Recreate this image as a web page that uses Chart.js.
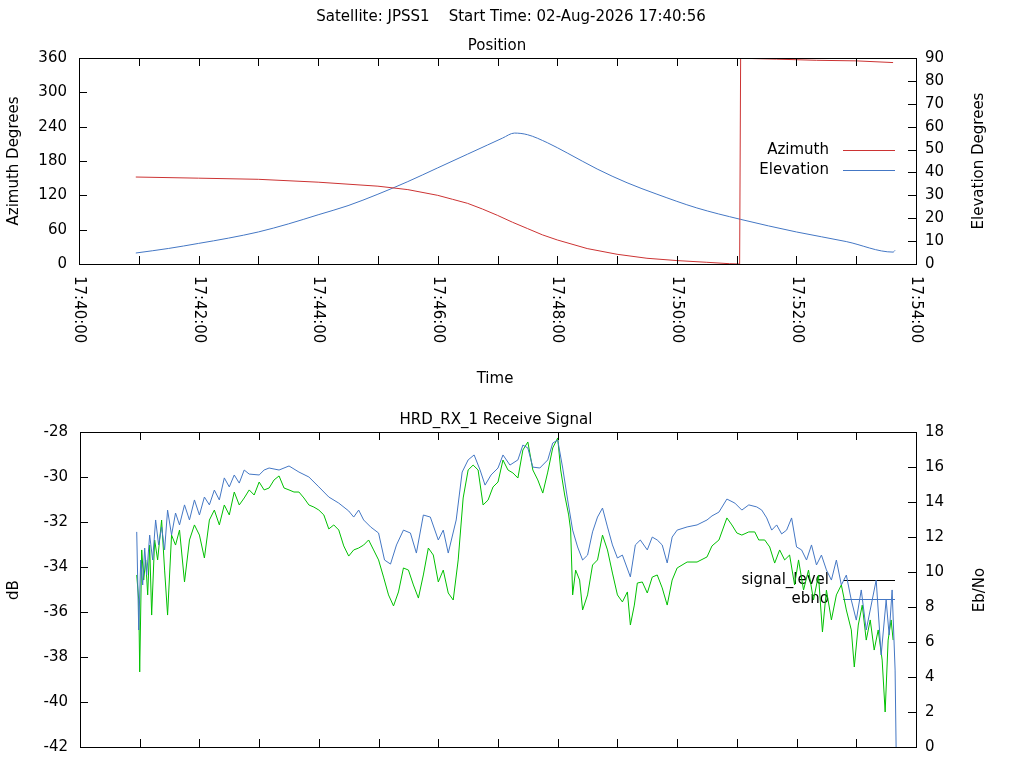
<!DOCTYPE html>
<html><head><meta charset="utf-8">
<script src="https://cdn.jsdelivr.net/npm/chart.js@4.4.1/dist/chart.umd.min.js"></script>
<style>
html,body{margin:0;padding:0;background:#fff;width:1024px;height:768px;overflow:hidden}
#c1{position:absolute;left:0;top:0}
#c2{position:absolute;left:0;top:400px}
</style></head><body>
<canvas id="c1" width="1024" height="400"></canvas>
<canvas id="c2" width="1024" height="368"></canvas>
<script>
// ---- data (time in seconds after 17:40:00) ----
const posTime = [57,120,180,240,300,330,360,375,390,405,420,435,450,465,480,510,540,570,600,630,653,663,664,677,700,740,780,817];
const azimuth = [152,150,148,143,136,130,120,113,106,96,85,73,62,51,42,27,17,10,6,3,0.5,0,360,359,358,356,355,352];
const elevTime = [57,90,120,150,180,210,240,270,300,330,360,390,410,425,437,450,470,490,520,550,580,620,664,720,770,817,819];
const elevation = [4.8,6.8,9,11.3,14,17.5,21.5,25.5,30.5,36,42,48,52,55,57.2,56.5,53,48.5,41.5,35.5,30.5,24.5,19.5,14,9.8,5.2,6];

const sigTime = [57,59,61,63,65,67,70,73,76,79,82,85,88,92,96,100,105,110,115,120,125,130,135,140,145,150,155,160,165,170,180,185,190,200,210,220,230,240,250,260,270,275,280,285,292,300,306,312,318,325,332,338,345,352,360,365,370,378,384,390,396,402,407,413,420,425,432,440,445,450,455,462,470,475,480,485,490,495,500,505,510,515,520,525,530,535,540,545,553,558,563,570,575,580,585,590,595,600,610,620,630,635,642,650,658,665,672,680,685,690,695,700,705,710,715,720,725,730,735,740,745,750,755,760,765,770,775,780,785,790,795,800,805,810,813,816,819,820];
const signalLevel = [-32.44,-36.8,-33.69,-34.8,-33.16,-34.36,-32.58,-33.69,-31.91,-33.02,-32.22,-33.24,-31.47,-32.58,-31.6,-32.13,-31.24,-31.91,-31.02,-31.69,-30.89,-31.24,-30.58,-31.02,-30.04,-30.44,-29.91,-30.27,-29.69,-29.87,-29.91,-29.69,-29.6,-29.69,-29.51,-29.78,-30.0,-30.44,-30.89,-31.16,-31.51,-31.78,-31.47,-31.91,-32.22,-32.49,-33.69,-33.87,-33.02,-32.36,-32.49,-33.38,-31.69,-31.78,-32.8,-32.36,-33.38,-31.91,-29.78,-29.24,-29.02,-29.69,-30.36,-29.91,-29.6,-29.02,-29.47,-29.24,-28.58,-28.71,-29.56,-29.6,-29.24,-28.49,-28.36,-29.6,-31.02,-32.36,-33.11,-33.69,-33.47,-32.44,-31.78,-31.38,-32.22,-33.02,-33.6,-33.47,-34.44,-33.02,-32.8,-33.24,-32.67,-32.8,-33.02,-33.82,-32.67,-32.36,-32.22,-32.13,-31.91,-31.73,-31.56,-30.98,-31.16,-31.47,-31.24,-31.33,-31.47,-31.82,-32.36,-32.13,-32.53,-32.36,-31.82,-33.11,-33.24,-33.69,-33.02,-33.91,-33.47,-34.13,-34.58,-33.69,-34.8,-34.36,-35.47,-36.36,-35.02,-36.8,-35.69,-34.58,-37.91,-35.47,-37.02,-35.02,-38.58,-42];

const ebnoTime = [57,59,60,62,64,66,68,70,72,75,78,82,85,88,92,96,100,105,110,115,120,125,130,135,140,145,150,155,160,165,170,175,180,185,190,195,200,205,210,215,220,225,230,235,240,245,250,255,260,265,270,275,280,285,290,295,300,305,310,315,320,325,330,335,340,345,350,355,360,365,370,375,380,385,390,395,400,405,410,415,420,425,430,435,440,445,450,455,460,465,470,475,480,483,487,491,493,495,498,502,505,510,515,520,525,530,535,540,545,550,553,557,560,565,570,575,580,585,590,595,600,610,620,630,635,642,650,655,660,665,672,678,682,688,693,698,703,708,713,718,722,727,732,737,742,746,750,755,760,765,770,775,778,782,786,790,794,798,802,806,809,812,815,817];
const ebno = [9.83,8.4,4.29,11.26,9.54,10.69,8.69,11.54,7.54,11.83,10.69,12.97,10.11,7.54,12.11,11.54,12.4,9.43,11.83,12.69,12.11,10.8,12.97,13.54,12.69,13.83,13.26,14.57,13.83,14.23,14.69,14.4,15.14,14.69,14.8,15.26,15.49,14.8,14.69,14.57,14.57,14.23,13.83,13.71,13.54,13.26,12.46,12.69,12.4,11.49,10.91,11.26,11.37,11.54,11.83,11.26,10.69,9.71,8.69,8.06,8.86,10.23,10.11,9.26,8.51,9.83,11.37,10.97,9.43,10.11,8.8,8.4,10.69,14.23,15.83,16.11,15.83,13.83,14.11,14.86,15.14,16.4,15.83,15.66,15.37,16.97,17.43,15.83,15.26,14.51,15.71,17.09,17.66,15.83,14.4,13.26,12.4,8.69,10.11,9.54,7.83,8.69,10.4,10.69,12.11,11.26,9.94,8.69,8.29,8.86,6.97,8.11,9.37,9.43,8.8,9.71,9.83,9.09,8.11,9.54,10.23,10.57,10.57,10.86,11.49,11.83,13.09,12.69,12.23,12.11,12.29,12.29,11.83,11.83,11.43,10.51,11.26,10.69,10.97,9.26,10.69,8.97,10.11,8.4,9.83,6.57,8.97,7.26,8.69,9.26,7.83,6.69,4.57,6.97,8.11,6.11,7.26,5.54,6.69,4.97,2.0,6.11,7.26,6.11];

const xTickLabels = ['17:40:00','17:42:00','17:44:00','17:46:00','17:48:00','17:50:00','17:52:00','17:54:00'];
const RED='#cc3333', BLUE='#4477c4', GREEN='#00c000';
const FONT='15px "DejaVu Sans"';
const pts=(t,v)=>t.map((x,i)=>({x,y:v[i]}));

function fixW(w){return s=>{s.width=w;};}
function fixH(h){return s=>{s.height=h;};}

function framePlugin(opts){
  return {id:'frame'+opts.id,
    beforeDatasetsDraw(ch){
      const c=ch.ctx;
      c.save();c.font=FONT;c.fillStyle='#000';c.textAlign='right';c.textBaseline='middle';
      opts.legend.forEach(l=>{
        const y=l.y;
        c.fillText(l.text,829,y);
        c.strokeStyle=l.color;c.lineWidth=1;
        c.beginPath();c.moveTo(843,y+0.5);c.lineTo(895,y+0.5);c.stroke();
      });
      c.restore();
    },
    afterDraw(ch){
      const c=ch.ctx,a=ch.chartArea;
      c.save();
      c.strokeStyle='#000';c.lineWidth=1;
      c.strokeRect(Math.round(a.left)+0.5,Math.round(a.top)+0.5,Math.round(a.right-a.left),Math.round(a.bottom-a.top));
      const xs=ch.scales.x;
      c.beginPath();
      for(let t=60;t<840;t+=60){const px=Math.round(xs.getPixelForValue(t))+0.5;
        c.moveTo(px,a.bottom);c.lineTo(px,a.bottom-8);c.moveTo(px,a.top);c.lineTo(px,a.top+8);}
      ['y','y2'].forEach(id=>{const s=ch.scales[id];s.ticks.forEach(tk=>{
        const py=Math.round(s.getPixelForValue(tk.value))+0.5;
        if(id==='y'){c.moveTo(a.left,py);c.lineTo(a.left+8,py);}else{c.moveTo(a.right,py);c.lineTo(a.right-8,py);}
      });});
      c.stroke();
      c.fillStyle='#000';c.font=FONT;c.textAlign='center';c.textBaseline='middle';
      opts.texts.forEach(t=>{
        c.save();c.translate(t.x,t.y);if(t.rot)c.rotate(t.rot);c.fillText(t.s,0,0);c.restore();
      });
      if(opts.xlabels){
        for(let i=0;i<xTickLabels.length;i++){
          const px=xs.getPixelForValue(i*120);
          c.save();c.translate(px,276);c.rotate(Math.PI/2);c.textAlign='left';c.fillText(xTickLabels[i],0,0);c.restore();
        }
      }
      c.restore();
    }};
}

const common={responsive:false,animation:false,events:[],
  plugins:{legend:{display:false},tooltip:{enabled:false}},
  elements:{point:{radius:0},line:{borderWidth:1,tension:0}}};
const xAxis=(h)=>({type:'linear',min:0,max:840,afterFit:fixH(h),ticks:{display:false},grid:{display:false},border:{display:false}});
const yTicks={color:'#000',font:{family:'DejaVu Sans',size:15}};

new Chart(document.getElementById('c1'),{type:'line',
  data:{datasets:[
    {data:pts(posTime,azimuth),borderColor:RED,yAxisID:'y'},
    {data:pts(elevTime,elevation),borderColor:BLUE,yAxisID:'y2',cubicInterpolationMode:'monotone'}]},
  options:{...common,layout:{padding:{top:58,left:0,right:0,bottom:0}},
    scales:{x:xAxis(136),
      y:{position:'left',min:0,max:360,afterFit:fixW(79),ticks:{...yTicks,stepSize:60,padding:12},grid:{display:false,drawTicks:false},border:{display:false}},
      y2:{position:'right',min:0,max:90,afterFit:fixW(108),ticks:{...yTicks,stepSize:10,padding:9},grid:{display:false,drawTicks:false},border:{display:false}}}},
  plugins:[framePlugin({id:1,xlabels:true,
    legend:[{text:'Azimuth',y:150,color:RED},{text:'Elevation',y:170,color:BLUE}],
    texts:[{s:'Satellite: JPSS1    Start Time: 02-Aug-2026 17:40:56',x:511,y:17},
      {s:'Position',x:497,y:46},{s:'Time',x:495,y:379},
      {s:'Azimuth Degrees',x:14,y:161,rot:-Math.PI/2},
      {s:'Elevation Degrees',x:979,y:161,rot:-Math.PI/2}]})]
});

new Chart(document.getElementById('c2'),{type:'line',
  data:{datasets:[
    {data:pts(sigTime,signalLevel),borderColor:BLUE,yAxisID:'y'},
    {data:pts(ebnoTime,ebno),borderColor:GREEN,yAxisID:'y2'}]},
  options:{...common,layout:{padding:{top:32,left:0,right:0,bottom:0}},
    scales:{x:xAxis(21),
      y:{position:'left',min:-42,max:-28,afterFit:fixW(80),ticks:{...yTicks,stepSize:2,padding:12},grid:{display:false,drawTicks:false},border:{display:false}},
      y2:{position:'right',min:0,max:18,afterFit:fixW(108),ticks:{...yTicks,stepSize:2,padding:9},grid:{display:false,drawTicks:false},border:{display:false}}}},
  plugins:[framePlugin({id:2,xlabels:false,
    legend:[{text:'signal_level',y:180,color:'#000'},{text:'ebno',y:199,color:BLUE}],
    texts:[{s:'HRD_RX_1 Receive Signal',x:496,y:20},
      {s:'dB',x:14,y:190,rot:-Math.PI/2},
      {s:'Eb/No',x:980,y:190,rot:-Math.PI/2}]})]
});
</script></body></html>
